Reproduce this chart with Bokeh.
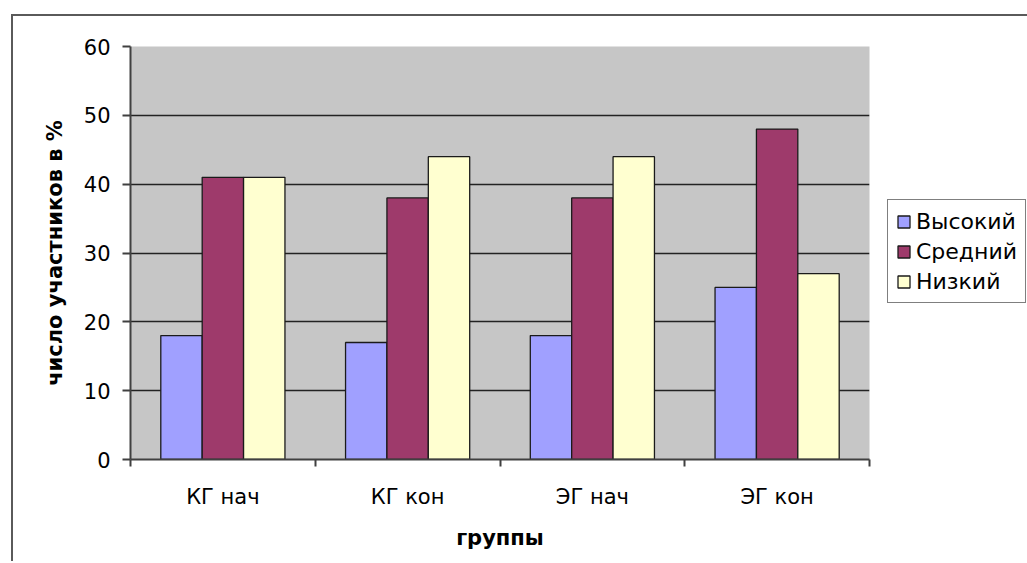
import numpy as np
from bokeh.plotting import figure
from bokeh.layouts import row
from bokeh.models import Range1d, FixedTicker, Legend, LegendItem
from bokeh.embed import file_html
from bokeh.resources import INLINE

categories = ["КГ нач", "КГ кон", "ЭГ нач", "ЭГ кон"]
series_names = ["Высокий", "Средний", "Низкий"]
vysokiy = [18, 17, 18, 25]
sredniy = [41, 38, 38, 48]
nizkiy = [41, 44, 44, 27]
y_ticks = [0, 10, 20, 30, 40, 50, 60]

colors = ["#A0A0FF", "#9E3A6B", "#FFFFD0"]
series = [vysokiy, sredniy, nizkiy]

FONT = "DejaVu Sans"

p = figure(width=873, height=545, x_range=Range1d(0, len(categories)),
           y_range=Range1d(y_ticks[0], y_ticks[-1]),
           output_backend="svg", toolbar_location=None,
           min_border_left=117, min_border_top=30, min_border_bottom=102,
           min_border_right=17)
p.background_fill_color = "#C6C6C6"
p.border_fill_color = "white"
p.outline_line_color = None

centers = np.arange(len(categories)) + 0.5
bw = 0.224
offsets = [-bw, 0.0, bw]
for vals, off, c in zip(series, offsets, colors):
    p.vbar(x=centers + off, top=vals, width=bw, bottom=0,
           fill_color=c, line_color="#1a1a1a", line_width=1.3)

# x axis
p.xaxis.ticker = FixedTicker(ticks=list(centers), minor_ticks=list(range(len(categories) + 1)))
p.xaxis.major_label_overrides = {float(c): name for c, name in zip(centers, categories)}
p.xaxis.major_tick_out = 0
p.xaxis.major_tick_in = 0
p.xaxis.minor_tick_out = 7
p.xaxis.minor_tick_in = 0
p.xaxis.minor_tick_line_color = "#404040"
p.xaxis.minor_tick_line_width = 2
p.xaxis.axis_label = "группы"
p.xaxis.major_label_standoff = 18

# y axis
p.yaxis.ticker = FixedTicker(ticks=y_ticks)
p.yaxis.major_tick_out = 8
p.yaxis.major_tick_in = 0
p.yaxis.minor_tick_line_color = None
p.yaxis.major_tick_line_color = "#404040"
p.yaxis.major_tick_line_width = 2
p.yaxis.axis_label = "число участников в %"
p.yaxis.major_label_standoff = 12

for ax in (p.xaxis, p.yaxis):
    ax.axis_line_color = "#404040"
    ax.axis_line_width = 2
    ax.major_label_text_font = FONT
    ax.major_label_text_font_size = "21px"
    ax.major_label_text_color = "black"
    ax.axis_label_text_font = FONT
    ax.axis_label_text_font_size = "21px"
    ax.axis_label_text_font_style = "bold"
    ax.axis_label_text_color = "black"
    ax.axis_label_standoff = 14

p.xgrid.grid_line_color = None
p.ygrid.ticker = FixedTicker(ticks=y_ticks[1:-1])
p.ygrid.grid_line_color = "#222222"
p.ygrid.grid_line_width = 1.5

# legend panel (separate narrow figure to the right of the plot)
p2 = figure(width=141, height=545, x_range=Range1d(0, 1), y_range=Range1d(0, 1),
            output_backend="svg", toolbar_location=None,
            x_axis_location=None, y_axis_location=None, min_border=0)
p2.grid.visible = False
p2.outline_line_color = None
p2.background_fill_color = "white"
p2.border_fill_color = "white"
# swatch renderers with non-drawable (NaN) height; they only feed the legend
swatches = [p2.vbar(x=[0.5], bottom=[0.0], top=[float("nan")], width=0.1,
                    fill_color=c, line_color="#1a1a1a", line_width=1.3)
            for c in colors]
legend = Legend(items=[LegendItem(label=n, renderers=[r]) for n, r in zip(series_names, swatches)],
                location=(1, 156), margin=0)
legend.label_text_font = FONT
legend.label_text_font_size = "22px"
legend.label_text_color = "black"
legend.glyph_width = 15
legend.glyph_height = 15
legend.label_height = 26
legend.label_standoff = 5
legend.spacing = 4
legend.padding = 8
legend.border_line_color = "black"
legend.border_line_width = 1
legend.background_fill_alpha = 1.0
p2.add_layout(legend, "center")

layout = row(p, p2, spacing=0)
layout.margin = (14, 0, 0, 11)
layout.styles = {"border-top": "2px solid #5a5a5a", "border-left": "2px solid #5a5a5a"}

open("out.html", "w").write(file_html(layout, INLINE))
